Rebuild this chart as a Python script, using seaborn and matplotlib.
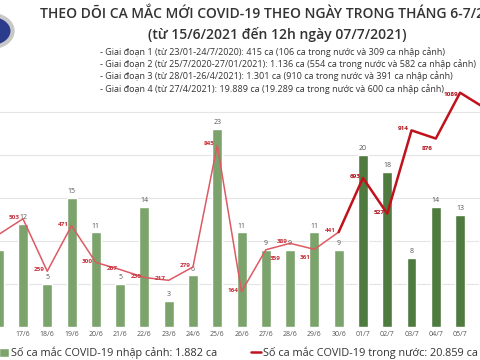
import numpy as np
import pandas as pd
import seaborn as sns
import matplotlib.pyplot as plt
from matplotlib.patches import Circle

# data (16/6 and 06/7 are cut at the edges)
days = ["16/6", "17/6", "18/6", "19/6", "20/6", "21/6", "22/6", "23/6", "24/6", "25/6",
        "26/6", "27/6", "28/6", "29/6", "30/6", "01/7", "02/7", "03/7", "04/7", "05/7", "06/7"]
imported = [9, 12, 5, 15, 11, 5, 14, 3, 6, 23, 11, 9, 9, 11, 9, 20, 18, 8, 14, 13, 10]
domestic = [430, 503, 259, 471, 300, 267, 230, 217, 279, 845, 164, 359, 389, 361, 441,
            693, 527, 914, 876, 1089, 1019]
month = ["6"] * 15 + ["7"] * 6

title = "THEO DÕI CA MẮC MỚI COVID-19 THEO NGÀY TRONG THÁNG 6-7/2021"
subtitle = "(từ 15/6/2021 đến 12h ngày 07/7/2021)"
phases = [
    "- Giai đoạn 1 (từ 23/01-24/7/2020): 415 ca (106 ca trong nước và 309 ca nhập cảnh)",
    "- Giai đoạn 2 (từ 25/7/2020-27/01/2021): 1.136 ca (554 ca trong nước và 582 ca nhập cảnh)",
    "- Giai đoạn 3 (từ 28/01-26/4/2021): 1.301 ca (910 ca trong nước và 391 ca nhập cảnh)",
    "- Giai đoạn 4 (từ 27/4/2021): 19.889 ca (19.289 ca trong nước và 600 ca nhập cảnh)",
]
legend_labels = ["Số ca mắc COVID-19 nhập cảnh: 1.882 ca",
                 "Số ca mắc COVID-19 trong nước: 20.859 ca"]

df = pd.DataFrame({"day": days, "imported": imported, "domestic": domestic, "month": month})
df["pos"] = np.arange(len(df))

sns.set_style("white")
plt.rcParams["font.family"] = ["Open Sans", "DejaVu Sans"]

fig = plt.figure(figsize=(4.8, 3.6), dpi=100)
ax = fig.add_axes([0, 0.0917, 1, 0.686])

sns.barplot(data=df, x="day", y="imported", hue="month", dodge=False, width=0.41,
            palette={"6": "#79ac63", "7": "#4a8536"}, legend=False, ax=ax)
for cont in ax.containers:
    ax.bar_label(cont, padding=2, fontsize=5, color="#555555")

ymax = 28.7
ax.set_ylim(0, ymax)
ax.set_xlim(0.054, 19.82)
ax.set_yticks([5, 10, 15, 20, 25])
ax.set_yticklabels([])
ax.yaxis.grid(True, color="#e4e4e4", linewidth=0.8)
ax.set_axisbelow(True)
ax.tick_params(axis="x", length=0, labelsize=5, labelcolor="#555555", pad=3)
ax.tick_params(axis="y", length=0)
ax.set_xlabel("")
ax.set_ylabel("")
sns.despine(ax=ax, left=True, bottom=True)

ax2 = ax.twinx()
june = df[df["pos"] <= 14]
july = df[df["pos"] >= 14]
sns.lineplot(data=june, x="pos", y="domestic", color="#dd5a63", linewidth=1.1, ax=ax2)
sns.lineplot(data=july, x="pos", y="domestic", color="#c0121c", linewidth=1.8, ax=ax2)
ax2.set_ylim(0, ymax * 40)
ax2.set_xlim(0.054, 19.82)
ax2.set_yticks([])
ax2.set_ylabel("")
sns.despine(ax=ax2, left=True, bottom=True, right=True)

# label offsets (points) for the red numbers
offsets = {11: (3, -6), 13: (-3, -6), 18: (-2, -7), 19: (-1, -1.5), 20: (-3, -4)}
for i, v in enumerate(domestic):
    dx, dy = offsets.get(i, (-2, 1))
    col = "#c8303c" if i < 15 else "#b01018"
    ax2.annotate(str(v), (i, v), xytext=(dx, dy), textcoords="offset points",
                 ha="right" if dx <= 0 else "left", va="center", fontsize=4.6,
                 fontweight="bold", color=col)

# headline texts
fig.text(40 / 480, 1 - 14 / 360, title, fontsize=10, color="#333333", va="center",
         fontweight="semibold")
fig.text(277 / 480, 1 - 34 / 360, subtitle, fontsize=10, color="#333333", va="center",
         ha="center", fontweight="semibold")
for k, line in enumerate(phases):
    fig.text(100 / 480, 1 - (52 + 12.2 * k) / 360, line, fontsize=6.5, color="#333333",
             va="center")

# logo stub at the top-left corner
fig.patches.append(Circle((-9 / 480, 1 - 31 / 360), 0.045, transform=fig.transFigure,
                          facecolor="#2c3c8c", edgecolor="#c8c8c8", linewidth=3,
                          figure=fig))

handles = [ax.containers[0].patches[0], ax2.lines[1]]
fig.legend(handles, legend_labels, loc="lower left", bbox_to_anchor=(-0.022, -0.025),
           ncol=2, frameon=False, fontsize=7.8, handlelength=0.9, handleheight=0.9,
           handletextpad=0.2, columnspacing=3.1, labelcolor="#333333")

fig.savefig("out.png", dpi=100)
